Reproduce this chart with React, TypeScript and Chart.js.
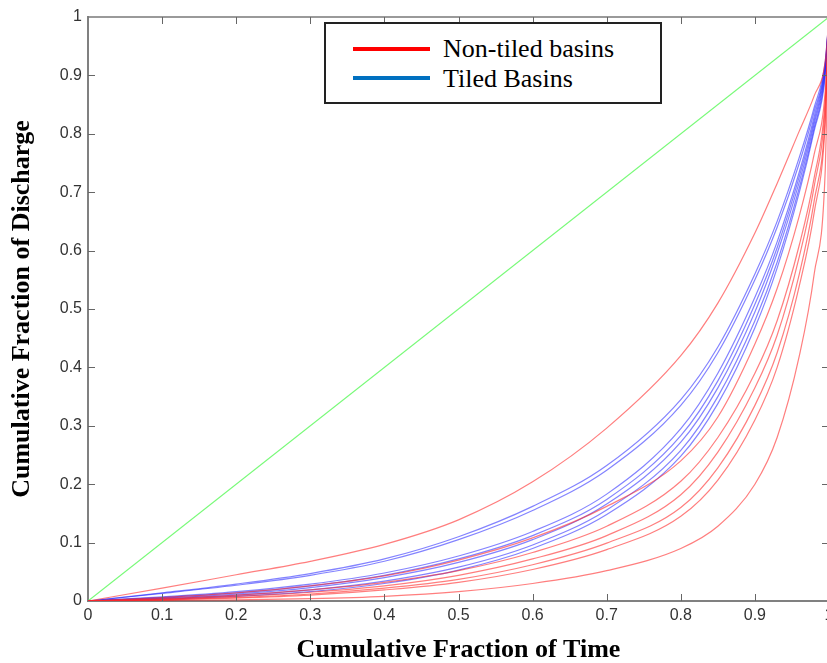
import React, { useEffect, useRef } from "react";
import { Chart, registerables } from "chart.js";

Chart.register(...registerables);

// Cumulative fraction of time (x positions of the read points)
const X_VALUES = [0, 0.1, 0.2, 0.3, 0.4, 0.5, 0.6, 0.7, 0.8, 0.85, 0.9, 0.93, 0.96, 0.98, 0.995, 1];

// Non-tiled basins (red)
const RED_R1 = [0, 0.022, 0.045, 0.068, 0.097, 0.139, 0.204, 0.296, 0.42, 0.51, 0.63, 0.715, 0.805, 0.865, 0.925, 1];
const RED_R2 = [0, 0.006, 0.014, 0.026, 0.043, 0.07, 0.108, 0.162, 0.24, 0.315, 0.44, 0.535, 0.66, 0.765, 0.875, 1];
const RED_R3 = [0, 0.004, 0.01, 0.019, 0.032, 0.052, 0.083, 0.128, 0.205, 0.28, 0.39, 0.48, 0.61, 0.725, 0.86, 1];
const RED_R4 = [0, 0.003, 0.008, 0.015, 0.026, 0.044, 0.072, 0.112, 0.182, 0.255, 0.365, 0.455, 0.59, 0.71, 0.85, 1];
const RED_R5 = [0, 0.002, 0.006, 0.012, 0.022, 0.037, 0.062, 0.099, 0.16, 0.228, 0.335, 0.425, 0.56, 0.685, 0.83, 1];
const RED_R6 = [0, 0.002, 0.005, 0.01, 0.019, 0.032, 0.054, 0.088, 0.145, 0.207, 0.31, 0.4, 0.54, 0.665, 0.82, 1];
const RED_R7 = [0, 0.001, 0.002, 0.004, 0.008, 0.016, 0.03, 0.052, 0.09, 0.128, 0.2, 0.28, 0.42, 0.56, 0.74, 1];
const RED_SERIES = [RED_R1, RED_R2, RED_R3, RED_R4, RED_R5, RED_R6, RED_R7];

// Tiled basins (blue)
const BLUE_B1 = [0, 0.014, 0.029, 0.047, 0.072, 0.11, 0.162, 0.232, 0.345, 0.435, 0.56, 0.65, 0.76, 0.845, 0.925, 1];
const BLUE_B2 = [0, 0.013, 0.027, 0.044, 0.068, 0.105, 0.155, 0.224, 0.335, 0.425, 0.55, 0.64, 0.75, 0.838, 0.92, 1];
const BLUE_B3 = [0, 0.007, 0.016, 0.029, 0.048, 0.077, 0.119, 0.183, 0.295, 0.39, 0.52, 0.615, 0.735, 0.83, 0.918, 1];
const BLUE_B4 = [0, 0.006, 0.014, 0.026, 0.044, 0.072, 0.112, 0.174, 0.283, 0.377, 0.508, 0.605, 0.727, 0.823, 0.914, 1];
const BLUE_B5 = [0, 0.005, 0.012, 0.023, 0.04, 0.066, 0.105, 0.166, 0.272, 0.365, 0.495, 0.595, 0.718, 0.817, 0.91, 1];
const BLUE_B6 = [0, 0.004, 0.01, 0.019, 0.034, 0.058, 0.096, 0.156, 0.258, 0.35, 0.48, 0.58, 0.708, 0.81, 0.905, 1];
const BLUE_B7 = [0, 0.003, 0.008, 0.016, 0.03, 0.053, 0.09, 0.148, 0.248, 0.338, 0.468, 0.57, 0.7, 0.805, 0.9, 1];
const BLUE_SERIES = [BLUE_B1, BLUE_B2, BLUE_B3, BLUE_B4, BLUE_B5, BLUE_B6, BLUE_B7];

// Equality line
const DIAGONAL_X = [0, 1];
const DIAGONAL_Y = [0, 1];

// Axis ticks
const X_TICKS = [0, 0.1, 0.2, 0.3, 0.4, 0.5, 0.6, 0.7, 0.8, 0.9, 1];
const X_TICK_LABELS = ["0", "0.1", "0.2", "0.3", "0.4", "0.5", "0.6", "0.7", "0.8", "0.9", "1"];
const Y_TICKS = [0, 0.1, 0.2, 0.3, 0.4, 0.5, 0.6, 0.7, 0.8, 0.9, 1];
const Y_TICK_LABELS = ["0", "0.1", "0.2", "0.3", "0.4", "0.5", "0.6", "0.7", "0.8", "0.9", "1"];

const X_TITLE = "Cumulative Fraction of Time";
const Y_TITLE = "Cumulative Fraction of Discharge";
const LEGEND_LABELS = ["Non-tiled basins", "Tiled Basins"];

const toPoints = (xs: number[], ys: number[]) => xs.map((x, i) => ({ x, y: ys[i] }));

const frameTicks = {
  id: "frameTicks",
  afterDraw(chart: any) {
    const { ctx, chartArea, scales } = chart;
    const { left, right, top, bottom } = chartArea;
    const xs = scales.x;
    const ys = scales.y;
    ctx.save();
    ctx.strokeStyle = "#7a7a7a";
    ctx.lineWidth = 1.5;
    ctx.beginPath();
    ctx.moveTo(left, top);
    ctx.lineTo(right, top);
    ctx.moveTo(right, top);
    ctx.lineTo(right, bottom);
    ctx.stroke();
    ctx.lineWidth = 1;
    ctx.strokeStyle = "#666";
    ctx.beginPath();
    X_TICKS.forEach((v) => {
      if (v === 0 || v === 1) return;
      const px = Math.round(xs.getPixelForValue(v)) + 0.5;
      ctx.moveTo(px, bottom);
      ctx.lineTo(px, bottom - 7);
      ctx.moveTo(px, top);
      ctx.lineTo(px, top + 7);
    });
    Y_TICKS.forEach((v) => {
      if (v === 0 || v === 1) return;
      const py = Math.round(ys.getPixelForValue(v)) + 0.5;
      ctx.moveTo(left, py);
      ctx.lineTo(left + 7, py);
      ctx.moveTo(right, py);
      ctx.lineTo(right - 7, py);
    });
    ctx.stroke();
    ctx.restore();
  },
};

export default function App() {
  const canvasRef = useRef<HTMLCanvasElement | null>(null);

  useEffect(() => {
    if (!canvasRef.current) return;
    const lineDs = (label: string, ys: number[], color: string) => ({
      label,
      data: toPoints(X_VALUES, ys),
      borderColor: color,
      borderWidth: 1.2,
      pointRadius: 0,
      fill: false,
      cubicInterpolationMode: "monotone" as const,
    });
    const datasets: any[] = [
      ...RED_SERIES.map((s, i) => lineDs("Non-tiled " + (i + 1), s, "rgba(255,40,40,0.6)")),
      ...BLUE_SERIES.map((s, i) => lineDs("Tiled " + (i + 1), s, "rgba(30,30,255,0.55)")),
      {
        label: "1:1",
        data: toPoints(DIAGONAL_X, DIAGONAL_Y),
        borderColor: "rgb(120,250,120)",
        borderWidth: 1.2,
        pointRadius: 0,
        fill: false,
      },
    ];

    const chart = new Chart(canvasRef.current, {
      type: "line",
      data: { datasets },
      plugins: [frameTicks],
      options: {
        animation: false,
        responsive: false,
        maintainAspectRatio: false,
        layout: { padding: { top: 17, right: 2, left: 0, bottom: 0 } },
        plugins: { legend: { display: false }, tooltip: { enabled: false } },
        scales: {
          x: {
            type: "linear",
            min: 0,
            max: 1,
            afterBuildTicks: (scale: any) => {
              scale.ticks = X_TICKS.map((v) => ({ value: v }));
            },
            afterFit: (scale: any) => {
              scale.height = 62;
              scale.paddingLeft = 0;
              scale.paddingRight = 0;
            },
            grid: { drawOnChartArea: false, drawTicks: false },
            border: { display: true, color: "#808080", width: 2 },
            ticks: {
              padding: 5,
              maxRotation: 0,
              autoSkip: false,
              color: "#333",
              font: { family: "'Liberation Sans', Arial, sans-serif", size: 16 },
              callback: (_v: any, i: number) => X_TICK_LABELS[i],
            },
            title: {
              display: true,
              text: X_TITLE,
              color: "#000",
              padding: { top: 0, bottom: 0 },
              font: { family: "'Liberation Serif', 'Times New Roman', serif", size: 26, weight: "bold", lineHeight: 1 },
            },
          },
          y: {
            type: "linear",
            min: 0,
            max: 1,
            afterBuildTicks: (scale: any) => {
              scale.ticks = Y_TICKS.map((v) => ({ value: v }));
            },
            afterFit: (scale: any) => {
              scale.width = 88;
              scale.paddingTop = 0;
              scale.paddingBottom = 0;
            },
            grid: { drawOnChartArea: false, drawTicks: false },
            border: { display: true, color: "#808080", width: 2 },
            ticks: {
              padding: 6,
              autoSkip: false,
              color: "#333",
              font: { family: "'Liberation Sans', Arial, sans-serif", size: 16 },
              callback: (_v: any, i: number) => Y_TICK_LABELS[i],
            },
            title: {
              display: true,
              text: Y_TITLE,
              color: "#000",
              padding: { top: 9, bottom: 0 },
              font: { family: "'Liberation Serif', 'Times New Roman', serif", size: 26, weight: "bold", lineHeight: 1 },
            },
          },
        },
      },
    });
    return () => chart.destroy();
  }, []);

  const textStyle: React.CSSProperties = {
    position: "absolute",
    left: 443,
    fontFamily: "'Liberation Serif', 'Times New Roman', serif",
    fontSize: 26,
    lineHeight: "26px",
    color: "#000",
    whiteSpace: "nowrap",
  };
  const swatch = (top: number, color: string): React.CSSProperties => ({
    position: "absolute",
    left: 353,
    top,
    width: 77,
    height: 4,
    background: color,
  });

  return (
    <div style={{ position: "fixed", left: 0, top: 0, width: 827, height: 663, overflow: "hidden", background: "#fff" }}>
      <canvas ref={canvasRef} width={831} height={663} style={{ display: "block", width: 831, height: 663 }} />
      <div
        style={{
          position: "absolute",
          left: 324,
          top: 22,
          width: 338,
          height: 82,
          border: "2px solid #222",
          boxSizing: "border-box",
          background: "#fff",
        }}
      />
      <div style={swatch(47, "#ff0000")} />
      <div style={swatch(76, "#0070c0")} />
      <div style={{ ...textStyle, top: 36 }}>{LEGEND_LABELS[0]}</div>
      <div style={{ ...textStyle, top: 66 }}>{LEGEND_LABELS[1]}</div>
    </div>
  );
}
